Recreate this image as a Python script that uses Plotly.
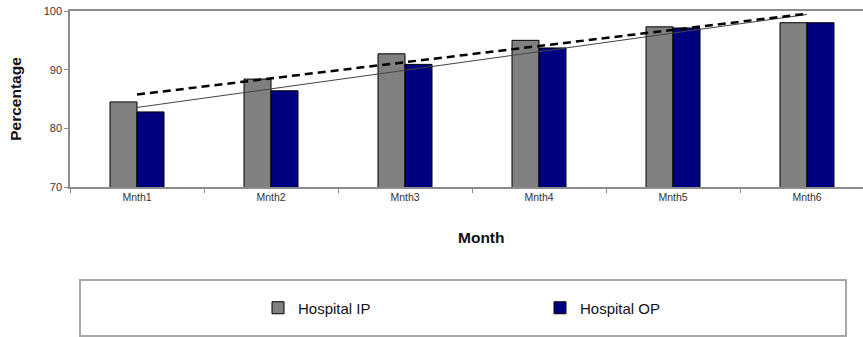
import numpy as np
import plotly.graph_objects as go

# Monthly percentages for inpatient and outpatient services
months = ["Mnth1", "Mnth2", "Mnth3", "Mnth4", "Mnth5", "Mnth6"]
hospital_ip = [84.5, 88.4, 92.7, 95.0, 97.3, 98.0]
hospital_op = [82.8, 86.4, 90.9, 93.7, 97.1, 98.0]
y_ticks = [70, 80, 90, 100]

FONT = "Liberation Sans, Arial, sans-serif"

# Linear trend of each series over the month index
idx = np.arange(len(months))
ip_fit = np.polyval(np.polyfit(idx, hospital_ip, 1), idx)
op_fit = np.polyval(np.polyfit(idx, hospital_op, 1), idx)

fig = go.Figure()
fig.add_trace(go.Bar(
    x=months, y=hospital_ip, name="Hospital IP",
    marker=dict(color="#808080", line=dict(color="#000000", width=1)),
))
fig.add_trace(go.Bar(
    x=months, y=hospital_op, name="Hospital OP",
    marker=dict(color="#000080", line=dict(color="#000000", width=1)),
))
fig.add_trace(go.Scatter(
    x=months, y=op_fit, mode="lines", showlegend=False, hoverinfo="skip",
    line=dict(color="#444444", width=1),
))
fig.add_trace(go.Scatter(
    x=months, y=ip_fit, mode="lines", showlegend=False, hoverinfo="skip",
    line=dict(color="#000000", width=2.5, dash="8px,5px"),
))

# plot area spans x 70..863 px and y 11..187 px
L, R, T, B = 70, 863, 11, 187
def px_x(p):
    return (p - L) / (R - L)
def px_y(p):
    return (B - p) / (B - T)

fig.update_layout(
    width=863, height=337,
    margin=dict(l=L, r=863 - R, t=T, b=337 - B),
    paper_bgcolor="white", plot_bgcolor="white",
    font=dict(family=FONT, color="#222222"),
    barmode="group", bargap=0.597, bargroupgap=0,
    showlegend=True,
    legend=dict(
        orientation="h", x=px_x(258), xanchor="left", y=px_y(308), yanchor="middle",
        bgcolor="rgba(0,0,0,0)", borderwidth=0,
        font=dict(family=FONT, size=15, color="#111111"),
        entrywidth=237, entrywidthmode="pixels",
    ),
    xaxis=dict(
        type="category", range=[-0.5, -0.5 + (R - L) / 134.0],
        showline=True, linecolor="#8c8c8c", linewidth=1.5, mirror=True,
        ticks="outside", tickson="boundaries", ticklen=4, tickcolor="#8c8c8c",
        tickfont=dict(family=FONT, size=10.5, color="#333333"),
        showgrid=False, zeroline=False,
    ),
    yaxis=dict(
        range=[70, 100], tickvals=y_ticks,
        showline=True, linecolor="#8c8c8c", linewidth=1.5,
        ticks="outside", ticklen=4, tickcolor="#8c8c8c",
        tickfont=dict(family=FONT, size=11, color="#333333"),
        showgrid=False, zeroline=False,
        title=dict(text="<b>Percentage</b>", font=dict(family=FONT, size=15.5, color="#111111"),
                   standoff=18),
    ),
    annotations=[dict(
        text="<b>Month</b>", xref="paper", yref="paper",
        x=px_x(481), y=px_y(237), xanchor="center", yanchor="middle",
        showarrow=False, font=dict(family=FONT, size=15.5, color="#111111"),
    )],
    shapes=[dict(
        type="rect", xref="paper", yref="paper",
        x0=px_x(80), x1=px_x(846), y0=px_y(280), y1=px_y(336),
        line=dict(color="#a8a8a8", width=2), fillcolor="rgba(0,0,0,0)", layer="below",
    )],
)

fig.write_html("out.html")
